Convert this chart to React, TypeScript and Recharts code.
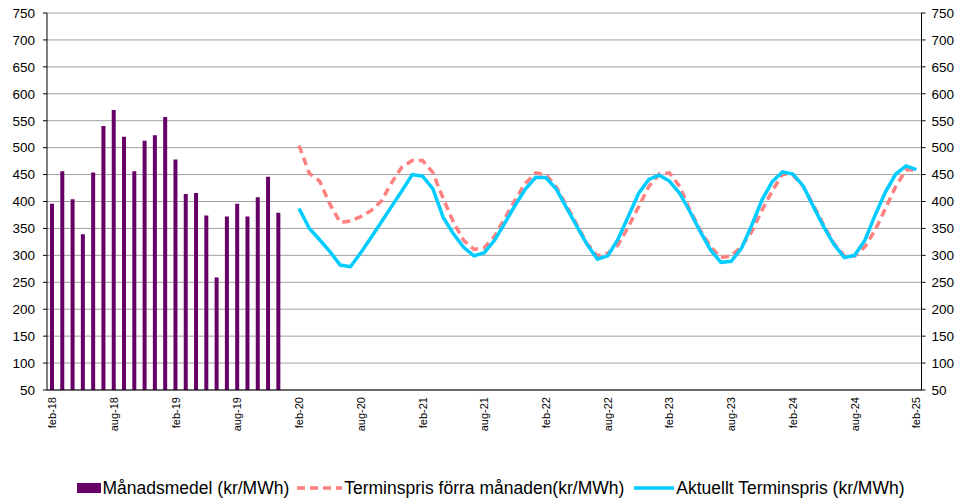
import { Bar, CartesianGrid, ComposedChart, Legend, Line, XAxis, YAxis } from "recharts"

const MONTH_NAMES = ["jan", "feb", "mar", "apr", "maj", "jun", "jul", "aug", "sep", "okt", "nov", "dec"]

// feb-18 .. feb-25, one category per month
const categories: string[] = []
for (let y = 18; y <= 25; y++) {
  for (let m = 0; m < 12; m++) {
    if ((y === 18 && m < 1) || (y === 25 && m > 1)) continue
    categories.push(`${MONTH_NAMES[m]}-${y}`)
  }
}

const yTicks = [50, 100, 150, 200, 250, 300, 350, 400, 450, 500, 550, 600, 650, 700, 750]

// Månadsmedel, feb-18 .. dec-19
const monthlyAverage = [
  396, 456, 404, 339, 454, 540, 570, 520, 456, 513, 523, 557,
  478, 414, 416, 374, 259, 372, 396, 372, 408, 446, 379,
]

// forward curves, feb-20 .. feb-25
const FORWARD_START = "feb-20"

const forwardPrevMonth = [
  504, 452, 438, 395, 361, 364, 372, 383, 401, 435, 464, 476,
  476, 454, 406, 362, 328, 311, 314, 335, 369, 403, 434, 453,
  450, 427, 392, 357, 322, 299, 304, 319, 353, 390, 428, 451,
  453, 428, 384, 347, 316, 296, 299, 316, 344, 384, 420, 451,
  449, 428, 393, 356, 322, 299, 299, 316, 347, 387, 428, 459,
  458,
]

const forwardCurrent = [
  387, 350, 329, 307, 282, 279, 305, 333, 362, 391, 420, 450,
  447, 424, 371, 340, 315, 299, 305, 328, 360, 393, 423, 445,
  444, 423, 388, 354, 320, 293, 299, 330, 372, 415, 441, 449,
  438, 415, 381, 344, 310, 287, 289, 313, 356, 403, 437, 455,
  451, 429, 390, 353, 320, 296, 300, 328, 375, 418, 451, 466,
  459,
]

const fs = categories.indexOf(FORWARD_START)

const data = categories.map((name, i) => ({
  name,
  idx: i,
  avg: i < monthlyAverage.length ? monthlyAverage[i] : null,
  prev: i >= fs ? forwardPrevMonth[i - fs] ?? null : null,
  cur: i >= fs ? forwardCurrent[i - fs] ?? null : null,
}))

const edgeTicks = [...categories.map((_, i) => i), categories.length]

const FONT = '"Liberation Sans", Arial, sans-serif'
const PURPLE = "#660066"
const SALMON = "#ff8080"
const CYAN = "#00ccff"

const MonthTick = ({ x, y, payload }: any) => (
  <text
    x={x}
    y={y}
    transform={`rotate(-90 ${x} ${y})`}
    textAnchor="end"
    dominantBaseline="central"
    fontSize={11}
    fontFamily={FONT}
    fill="#000"
  >
    {payload.value}
  </text>
)

const LegendContent = () => (
  <div
    style={{
      height: 49,
      boxSizing: "border-box",
      paddingTop: 27,
      paddingLeft: 24,
      display: "flex",
      justifyContent: "center",
      alignItems: "center",
      fontFamily: FONT,
      fontSize: 17.5,
      lineHeight: "20px",
      color: "#000",
      whiteSpace: "nowrap",
    }}
  >
    <span style={{ display: "flex", alignItems: "center", marginRight: 8 }}>
      <span style={{ width: 24, height: 10, background: PURPLE, marginRight: 2 }} />
      Månadsmedel (kr/MWh)
    </span>
    <span style={{ display: "flex", alignItems: "center", marginRight: 10 }}>
      <svg width={45} height={10} style={{ marginRight: 2 }}>
        <line x1={0} y1={5} x2={45} y2={5} stroke={SALMON} strokeWidth={3.5} strokeDasharray="8 5" />
      </svg>
      Terminspris förra månaden(kr/MWh)
    </span>
    <span style={{ display: "flex", alignItems: "center" }}>
      <svg width={40} height={10} style={{ marginRight: 2 }}>
        <line x1={0} y1={5} x2={40} y2={5} stroke={CYAN} strokeWidth={3.5} />
      </svg>
      Aktuellt Terminspris (kr/MWh)
    </span>
  </div>
)

export default function App() {
  return (
    <div
      style={{
        position: "fixed",
        left: 0,
        top: 0,
        width: 957,
        height: 499,
        overflow: "hidden",
        background: "#fff",
        fontFamily: FONT,
      }}
    >
      <ComposedChart
        width={957}
        height={499}
        data={data}
        margin={{ top: 13, right: 0, left: 0, bottom: 0 }}
        barCategoryGap={0}
      >
        <CartesianGrid yAxisId="left" xAxisId="cat" vertical={false} stroke="#a0a0a0" />
        <XAxis
          xAxisId="edges"
          type="number"
          dataKey="idx"
          domain={[0, categories.length]}
          ticks={edgeTicks}
          interval={0}
          allowDataOverflow
          height={0}
          tick={false}
          tickSize={4}
          tickLine={{ stroke: "#000" }}
          axisLine={{ stroke: "#000" }}
        />
        <XAxis
          xAxisId="cat"
          dataKey="name"
          interval={5}
          height={60}
          tickSize={0}
          tickMargin={7}
          tickLine={false}
          axisLine={{ stroke: "#000" }}
          tick={<MonthTick />}
        />
        <YAxis
          yAxisId="left"
          domain={[50, 750]}
          ticks={yTicks}
          interval={0}
          allowDataOverflow
          width={47}
          tickSize={4}
          tickMargin={8}
          axisLine={{ stroke: "#000" }}
          tickLine={{ stroke: "#000" }}
          tick={{ fill: "#000", fontSize: 13.5, fontFamily: FONT }}
        />
        <YAxis
          yAxisId="right"
          orientation="right"
          domain={[50, 750]}
          ticks={yTicks}
          interval={0}
          allowDataOverflow
          width={35.5}
          tickSize={4}
          tickMargin={6}
          axisLine={{ stroke: "#000" }}
          tickLine={{ stroke: "#000" }}
          tick={{ fill: "#000", fontSize: 13.5, fontFamily: FONT }}
        />
        <Legend verticalAlign="bottom" height={49} content={() => <LegendContent />} />
        <Bar
          xAxisId="cat"
          yAxisId="left"
          dataKey="avg"
          name="Månadsmedel (kr/MWh)"
          fill={PURPLE}
          barSize={4}
          isAnimationActive={false}
        />
        <Line
          xAxisId="cat"
          yAxisId="left"
          type="linear"
          dataKey="prev"
          name="Terminspris förra månaden(kr/MWh)"
          stroke={SALMON}
          strokeWidth={3.5}
          strokeDasharray="8 5"
          dot={false}
          activeDot={false}
          isAnimationActive={false}
        />
        <Line
          xAxisId="cat"
          yAxisId="left"
          type="linear"
          dataKey="cur"
          name="Aktuellt Terminspris (kr/MWh)"
          stroke={CYAN}
          strokeWidth={3.5}
          dot={false}
          activeDot={false}
          isAnimationActive={false}
        />
      </ComposedChart>
    </div>
  )
}
